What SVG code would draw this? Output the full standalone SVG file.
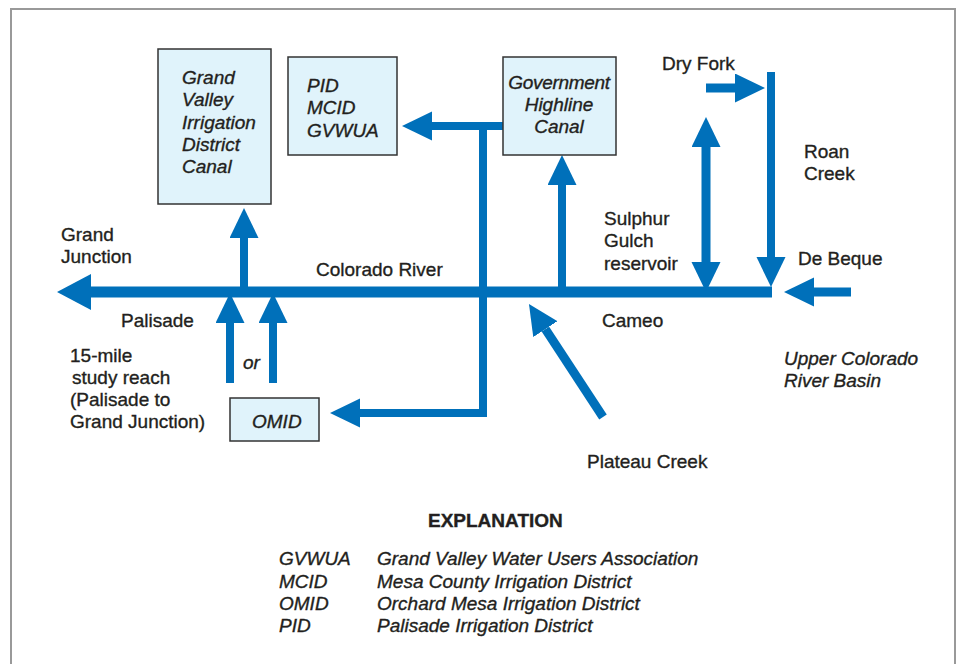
<svg xmlns="http://www.w3.org/2000/svg" width="959" height="664" viewBox="0 0 959 664">
<defs>
<style>
.t{font-family:"Liberation Sans",Arial,sans-serif;font-size:19px;fill:#231f20;stroke:#231f20;stroke-width:0.35}
.i{font-style:italic}
.b{font-weight:bold}
.box{fill:#e0f3fb;stroke:#333;stroke-width:1.5}
.c{fill:none;stroke:#0070ba;stroke-linejoin:miter}
</style>
<marker id="ah" markerUnits="userSpaceOnUse" markerWidth="32" markerHeight="32" refX="0" refY="14.5" orient="auto-start-reverse">
<path d="M0,0 L30,14.5 L0,29 Z" fill="#0070ba"/>
</marker>
<marker id="ahBig" markerUnits="userSpaceOnUse" markerWidth="36" markerHeight="38" refX="0" refY="18" orient="auto">
<path d="M0,0 L34,18 L0,36 Z" fill="#0070ba"/>
</marker>
</defs>
<rect x="0" y="0" width="959" height="664" fill="#fff"/>
<rect x="11" y="9" width="944" height="680" fill="none" stroke="#999" stroke-width="2"/>

<g id="connectors">
<path class="c" d="M772,292 H91" stroke-width="11" marker-end="url(#ahBig)"/>
<path class="c" d="M244,292 V238" stroke-width="8" marker-end="url(#ah)"/>
<path class="c" d="M230,383 V323" stroke-width="8" marker-end="url(#ah)"/>
<path class="c" d="M273,383 V323" stroke-width="8" marker-end="url(#ah)"/>
<path class="c" d="M503,126 H432" stroke-width="8" marker-end="url(#ah)"/>
<path class="c" d="M483,126 V413 H360" stroke-width="8" marker-end="url(#ah)"/>
<path class="c" d="M562,292 V185" stroke-width="8" marker-end="url(#ah)"/>
<path class="c" d="M706,262 V147" stroke-width="9" marker-start="url(#ah)" marker-end="url(#ah)"/>
<path class="c" d="M706,88 H735" stroke-width="9" marker-end="url(#ah)"/>
<path class="c" d="M771,72 V257" stroke-width="8" marker-end="url(#ah)"/>
<path class="c" d="M851,292 H814" stroke-width="9" marker-end="url(#ah)"/>
<path class="c" d="M603,417 L545.4,329.1" stroke-width="9" marker-end="url(#ah)"/>
</g>

<g id="gvidc">
<rect class="box" x="158" y="49" width="113" height="155"/>
<text class="t i" x="182" y="84">Grand</text>
<text class="t i" x="182" y="106">Valley</text>
<text class="t i" x="182" y="129">Irrigation</text>
<text class="t i" x="182" y="151">District</text>
<text class="t i" x="182" y="173">Canal</text>
</g>

<g id="pid">
<rect class="box" x="288" y="57" width="109" height="98"/>
<text class="t i" x="307" y="92">PID</text>
<text class="t i" x="307" y="114">MCID</text>
<text class="t i" x="307" y="137">GVWUA</text>
</g>

<g id="ghc">
<rect class="box" x="503" y="57" width="113" height="98"/>
<text class="t i" x="559" y="89" text-anchor="middle" letter-spacing="-0.3">Government</text>
<text class="t i" x="559" y="111" text-anchor="middle">Highline</text>
<text class="t i" x="559" y="133" text-anchor="middle">Canal</text>
</g>

<g id="omid">
<rect class="box" x="230" y="398" width="89" height="43"/>
<text class="t i" x="252" y="428">OMID</text>
</g>

<g id="labels">
<text class="t" x="61" y="241">Grand</text>
<text class="t" x="61" y="263">Junction</text>
<text class="t" x="316" y="276">Colorado River</text>
<text class="t" x="121" y="327">Palisade</text>
<text class="t" x="70" y="362">15-mile</text>
<text class="t" x="72" y="384">study reach</text>
<text class="t" x="70" y="406">(Palisade to</text>
<text class="t" x="70" y="428">Grand Junction)</text>
<text class="t i" x="243" y="369">or</text>
<text class="t" x="662" y="70">Dry Fork</text>
<text class="t" x="804" y="158">Roan</text>
<text class="t" x="804" y="180">Creek</text>
<text class="t" x="604" y="225">Sulphur</text>
<text class="t" x="604" y="247">Gulch</text>
<text class="t" x="604" y="270">reservoir</text>
<text class="t" x="798" y="265">De Beque</text>
<text class="t" x="602" y="327">Cameo</text>
<text class="t" x="587" y="468">Plateau Creek</text>
<text class="t i" x="784" y="365">Upper Colorado</text>
<text class="t i" x="784" y="387">River Basin</text>
</g>

<g id="explanation">
<text class="t b" x="428" y="527">EXPLANATION</text>
<text class="t i" x="279" y="565">GVWUA</text>
<text class="t i" x="377" y="565">Grand Valley Water Users Association</text>
<text class="t i" x="279" y="588">MCID</text>
<text class="t i" x="377" y="588">Mesa County Irrigation District</text>
<text class="t i" x="279" y="610">OMID</text>
<text class="t i" x="377" y="610">Orchard Mesa Irrigation District</text>
<text class="t i" x="279" y="632">PID</text>
<text class="t i" x="377" y="632">Palisade Irrigation District</text>
</g>
</svg>
